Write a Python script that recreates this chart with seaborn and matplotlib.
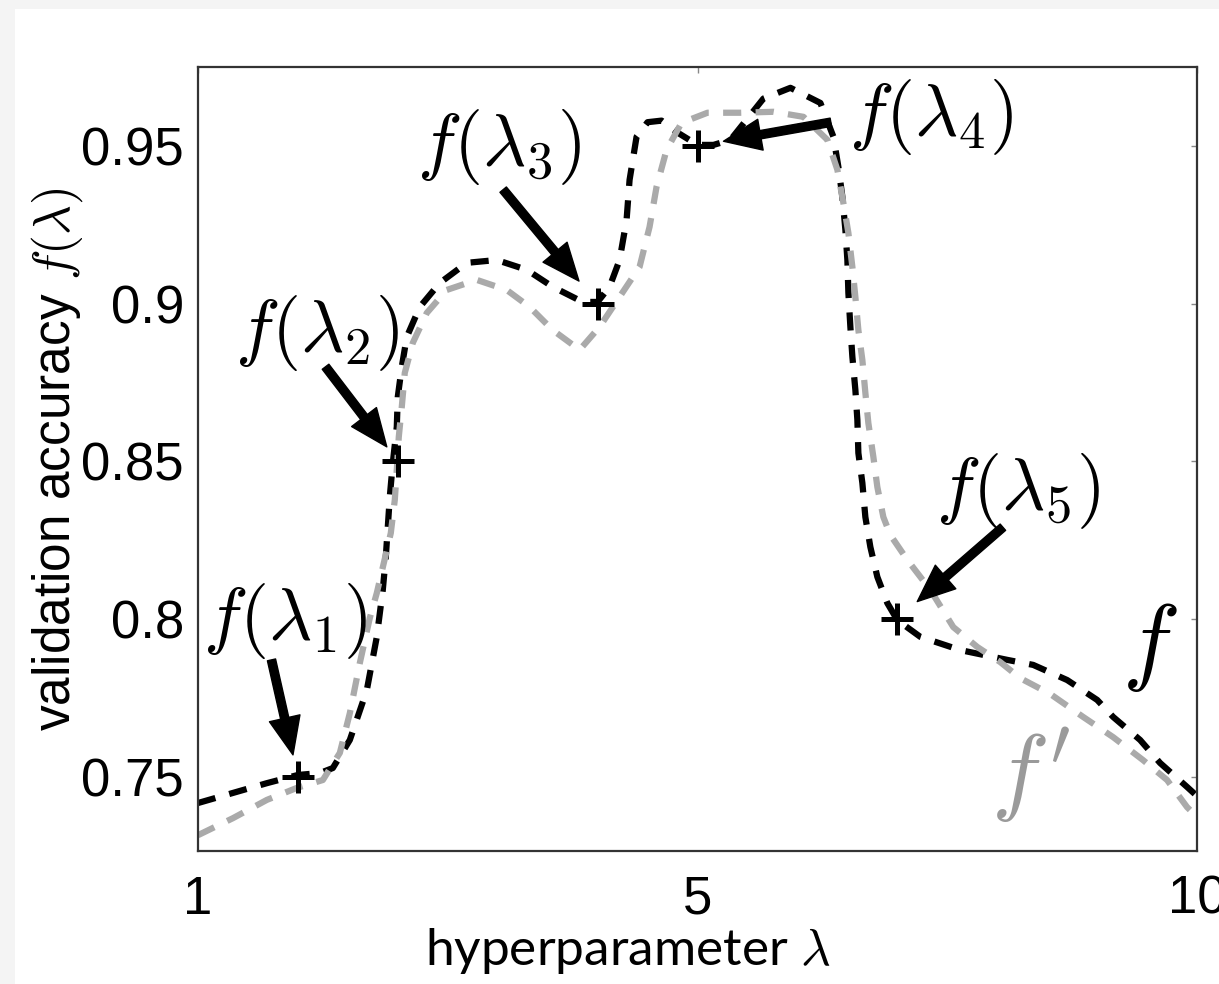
import matplotlib
matplotlib.use('Agg')
import matplotlib.pyplot as plt
from matplotlib.patches import Rectangle
import numpy as np
import pandas as pd
import seaborn as sns

###############
# values
###############
# f : black dashed curve
f_lam = [0.00, 0.35, 0.69, 1.00, 1.22, 1.35, 1.52, 1.69, 1.79, 1.85, 1.88, 1.90,
         1.92, 1.95, 1.99, 2.00, 2.04, 2.09, 2.22, 2.42, 2.69, 2.99, 3.29, 3.55,
         3.85, 4.00, 4.12, 4.22, 4.29, 4.32, 4.39, 4.50, 4.64, 4.79, 5.00, 5.16,
         5.33, 5.66, 5.93, 6.23, 6.36, 6.41, 6.45, 6.48, 6.50, 6.51, 6.53, 6.55,
         6.58, 6.60, 6.61, 6.65, 6.68, 6.73, 6.80, 6.90, 7.00, 7.23, 7.63, 8.10,
         8.36, 8.70, 9.00, 9.16, 9.43, 9.63, 9.90, 10.00]
f_acc = [0.7416, 0.7448, 0.7479, 0.7505, 0.7511, 0.7527, 0.7616, 0.7774, 0.7943,
         0.8092, 0.8196, 0.8291, 0.8387, 0.8494, 0.8609, 0.8704, 0.8799, 0.8894,
         0.8989, 0.9065, 0.9129, 0.9138, 0.9107, 0.9053, 0.9005, 0.9005, 0.9053,
         0.9138, 0.9265, 0.9392, 0.9529, 0.9575, 0.9580, 0.9544, 0.9503, 0.9503,
         0.9519, 0.9650, 0.9684, 0.9636, 0.9529, 0.9433, 0.9338, 0.9234, 0.9138,
         0.9034, 0.8926, 0.8831, 0.8726, 0.8631, 0.8526, 0.8431, 0.8323, 0.8228,
         0.8133, 0.8050, 0.7996, 0.7943, 0.7901, 0.7870, 0.7854, 0.7806, 0.7743,
         0.7689, 0.7616, 0.7543, 0.7467, 0.7438]

# f' : grey dashed curve
fp_lam = [0.00, 0.35, 0.69, 0.99, 1.25, 1.42, 1.52, 1.62, 1.72, 1.79, 1.86, 1.93,
          1.97, 1.99, 2.01, 2.04, 2.07, 2.15, 2.29, 2.49, 2.79, 3.09, 3.32, 3.55,
          3.82, 4.02, 4.22, 4.42, 4.52, 4.59, 4.69, 4.84, 5.10, 5.43, 5.76, 6.06,
          6.30, 6.40, 6.46, 6.51, 6.55, 6.58, 6.61, 6.65, 6.68, 6.71, 6.76, 6.80,
          6.86, 6.93, 7.10, 7.33, 7.56, 7.80, 8.03, 8.23, 8.53, 8.86, 9.16, 9.46,
          9.70, 9.90, 10.00]
fp_acc = [0.7314, 0.7368, 0.7426, 0.7464, 0.7489, 0.7575, 0.7701, 0.7860, 0.8003,
          0.8082, 0.8177, 0.8272, 0.8377, 0.8472, 0.8577, 0.8672, 0.8780, 0.8875,
          0.8970, 0.9043, 0.9075, 0.9043, 0.8989, 0.8916, 0.8853, 0.8926, 0.9021,
          0.9116, 0.9243, 0.9370, 0.9487, 0.9573, 0.9605, 0.9605, 0.9608, 0.9592,
          0.9519, 0.9424, 0.9319, 0.9224, 0.9116, 0.9021, 0.8916, 0.8821, 0.8717,
          0.8621, 0.8514, 0.8418, 0.8323, 0.8266, 0.8187, 0.8092, 0.7974, 0.7911,
          0.7863, 0.7812, 0.7762, 0.7689, 0.7625, 0.7552, 0.7489, 0.7403, 0.7372]

# evaluated hyperparameters
pts_lam = [1, 2, 4, 5, 7]
pts_acc = [0.75, 0.85, 0.90, 0.95, 0.80]
pts_labels = [r'$f(\lambda_1)$', r'$f(\lambda_2)$', r'$f(\lambda_3)$',
              r'$f(\lambda_4)$', r'$f(\lambda_5)$']

xticks = [0, 5, 10]
xtick_labels = ['1', '5', '10']
yticks = [0.75, 0.8, 0.85, 0.9, 0.95]
ytick_labels = ['0.75', '0.8', '0.85', '0.9', '0.95']

###############
# layout of the annotations (offset points from each point)
###############
arrow_from = [(-19, 84), (-52, 68), (-68, 82), (96, 17), (76, 66)]
arrow_gap = [16, 13, 21, 19, 19]
label_at = [(-9, 112), (-58, 92), (-71, 113), (168, 21), (87, 92)]

GREY = '#aaaaaa'

sns.set_style('white')
plt.rcParams['font.family'] = ['Liberation Sans', 'DejaVu Sans']
plt.rcParams['mathtext.fontset'] = 'cm'
plt.rcParams['text.color'] = 'black'
plt.rcParams['axes.labelcolor'] = 'black'

fig = plt.figure(figsize=(12.19, 9.84), dpi=100)
fig.patch.set_facecolor('#f4f4f4')
fig.add_artist(Rectangle((15 / 1219, 0), 1, 1 - 9 / 984, transform=fig.transFigure,
                         facecolor='white', edgecolor='none', zorder=-10))
ax = fig.add_axes([0.1624, 0.1352, 0.8196, 0.7967])

curves = pd.concat([
    pd.DataFrame({'lam': f_lam, 'acc': f_acc, 'curve': 'f'}),
    pd.DataFrame({'lam': fp_lam, 'acc': fp_acc, 'curve': "f'"}),
])
sns.lineplot(data=curves, x='lam', y='acc', hue='curve', style='curve',
             hue_order=['f', "f'"], style_order=['f', "f'"],
             palette={'f': 'black', "f'": GREY},
             dashes={'f': (2.9, 2.3), "f'": (2.9, 2.3)},
             linewidth=4.5, estimator=None, sort=False, legend=False, ax=ax)
for line in ax.lines:
    line.set_dash_capstyle('butt')

sns.scatterplot(x=pts_lam, y=pts_acc, marker='+', s=530, color='black',
                linewidth=3.6, zorder=5, ax=ax)

for lam, acc, lab, start, gap, txt in zip(pts_lam, pts_acc, pts_labels,
                                          arrow_from, arrow_gap, label_at):
    ax.annotate('', xy=(lam, acc), xytext=start, textcoords='offset points',
                arrowprops=dict(arrowstyle='simple,head_length=0.9,head_width=0.75,tail_width=0.2',
                                mutation_scale=30, color='black', shrinkA=0, shrinkB=gap),
                zorder=6)
    ax.annotate(lab, xy=(lam, acc), xytext=txt, textcoords='offset points',
                ha='center', va='center', fontsize=54, color='black')

ax.text(0.953, 0.26, r'$f$', transform=ax.transAxes, fontsize=70,
        ha='center', va='center', color='black')
ax.text(0.833, 0.097, r"$f'$", transform=ax.transAxes, fontsize=70,
        ha='center', va='center', color='#9a9a9a')

ax.set_xlim(0, 10)
ax.set_ylim(0.7264, 0.975)
ax.set_xticks(xticks)
ax.set_xticklabels(xtick_labels)
ax.set_yticks(yticks)
ax.set_yticklabels(ytick_labels)
ax.tick_params(axis='both', direction='in', length=4, width=1, color='#888888',
               labelcolor='black', top=True, right=True, labelsize=38)
ax.tick_params(axis='x', pad=17)
ax.tick_params(axis='y', pad=10)
for sp in ax.spines.values():
    sp.set_color('#333333')
    sp.set_linewidth(1.6)

ax.set_ylabel(r'validation accuracy $f(\lambda)$', fontsize=37, color='black')
ax.yaxis.set_label_coords(-0.113, 0.5)
ax.set_xlabel(r'hyperparameter $\lambda$', fontsize=37, color='black',
              family=['Lato', 'DejaVu Sans'])
ax.xaxis.label.set_va('baseline')
ax.xaxis.set_label_coords(0.43, -0.1454)

fig.savefig('out.png', dpi=100)
